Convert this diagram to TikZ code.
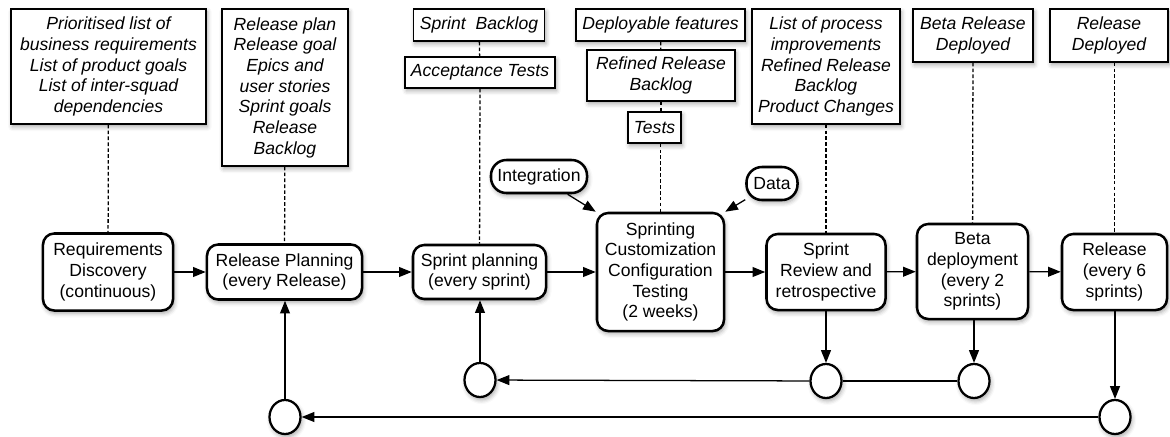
\documentclass[tikz,border=0pt]{standalone}
\usepackage{fontspec}
\setmainfont{Liberation Sans}
\usetikzlibrary{arrows.meta,shapes.geometric,shadows.blur}

\begin{document}
\begin{tikzpicture}[x=0.025cm,y=-0.025cm,
  shade/.style={blur shadow={shadow xshift=1pt,shadow yshift=-2pt,shadow blur radius=3pt,shadow opacity=35}},
  note/.style={draw,line width=0.9pt,fill=white,align=center,inner sep=0pt,shade,
    font=\fontsize{12.5}{14.7}\selectfont\itshape},
  proc/.style={draw,line width=1.8pt,rounded corners=8pt,fill=white,align=center,inner sep=0pt,shade,
    font=\fontsize{12.5}{14.7}\selectfont},
  pill/.style={draw,line width=1.8pt,rounded corners=11pt,fill=white,inner sep=0pt,shade,
    minimum height=0.825cm,font=\fontsize{12.5}{14.7}\selectfont},
  junc/.style={ellipse,draw,line width=1.6pt,fill=white,inner sep=0pt,shade,
    minimum width=0.775cm,minimum height=0.85cm},
  flow/.style={line width=0.9pt,-{Triangle[length=9pt,width=7pt]}},
  link/.style={line width=0.9pt},
  guide/.style={line width=0.9pt,dash pattern=on 2.6pt off 1.6pt}]
\useasboundingbox (0,0) rectangle (1170,436);

% outputs
\node[note,minimum width=4.875cm,minimum height=2.875cm] (reqout) at (108.5,66.5)
  {Prioritised list of\\business requirements\\List of product goals\\List of inter-squad\\dependencies};
\node[note,minimum width=3.15cm,minimum height=3.925cm] (planout) at (285,87.5)
  {Release plan\\Release goal\\Epics and\\user stories\\Sprint goals\\Release\\Backlog};
\node[note,minimum width=3.275cm,minimum height=0.8cm] (sprintbl) at (479,25) {Sprint\ \ Backlog};
\node[note,minimum width=3.75cm,minimum height=0.775cm] (acctests) at (480,72.5) {Acceptance Tests};
\node[note,minimum width=4.225cm,minimum height=0.8cm] (deployable) at (660.5,25) {Deployable features};
\node[note,minimum width=3.7cm,minimum height=1.275cm] (refined) at (661,75.5) {Refined Release\\Backlog};
\node[note,minimum width=1.325cm,minimum height=0.775cm] (tests) at (654.5,127.5) {Tests};
\node[note,minimum width=3.7cm,minimum height=2.875cm] (improv) at (826,66.5)
  {List of process\\improvements\\Refined Release\\Backlog\\Product Changes};
\node[note,minimum width=3cm,minimum height=1.325cm] (betaout) at (973,35.5) {Beta Release\\Deployed};
\node[note,minimum width=2.95cm,minimum height=1.325cm] (relout) at (1109,35.5) {Release\\Deployed};

% steps
\node[proc,minimum width=3.25cm,minimum height=1.925cm] (discovery) at (108,272)
  {Requirements\\Discovery\\(continuous)};
\node[proc,minimum width=3.875cm,minimum height=1.375cm] (relplan) at (284.5,272)
  {Release Planning\\(every Release)};
\node[proc,minimum width=3.325cm,minimum height=1.35cm] (sprplan) at (479.5,272)
  {Sprint planning\\(every sprint)};
\node[proc,minimum width=3.175cm,minimum height=2.95cm] (sprinting) at (660.5,272)
  {Sprinting\\Customization\\Configuration\\Testing\\(2 weeks)};
\node[proc,minimum width=2.975cm,minimum height=1.9cm] (review) at (826,272)
  {Sprint\\Review and\\retrospective};
\node[proc,minimum width=2.775cm,minimum height=2.375cm] (betadep) at (972.5,271.5)
  {Beta\\deployment\\(every 2\\sprints)};
\node[proc,minimum width=2.625cm,minimum height=1.9cm] (release) at (1114.5,272)
  {Release\\(every 6\\sprints)};

\node[pill,minimum width=2.4cm] (integ) at (539,176.5) {Integration};
\node[pill,minimum width=1.275cm] (data) at (772,183.5) {Data};

% junctions
\node[junc] (sprjoin) at (480,380) {};
\node[junc] (revjoin) at (826,381) {};
\node[junc] (betajoin) at (974,381) {};
\node[junc] (reljoin) at (1115,417) {};
\node[junc] (planjoin) at (285,417) {};

% dashed ties
\draw[guide] (reqout) -- (discovery);
\draw[guide] (planout) -- (relplan);
\draw[guide] (sprintbl) -- (acctests);
\draw[guide] (acctests) -- (sprplan);
\draw[guide] (deployable) -- (refined);
\draw[guide] (refined.south) -- (refined.south |- tests.north);
\draw[guide] (tests.south -| sprinting.north) -- (sprinting.north);
\draw[guide] (improv) -- (review);
\draw[guide] (betaout) -- (betadep);
\draw[guide] (release.north |- relout.south) -- (release.north);

% flow
\draw[flow] (discovery) -- (relplan);
\draw[flow] (relplan) -- (sprplan);
\draw[flow] (sprplan) -- (sprinting);
\draw[flow] (sprinting) -- (review);
\draw[flow] (review) -- (betadep);
\draw[flow] (betadep) -- (release);
\draw[flow] (integ) -- (sprinting.north west);
\draw[flow] (data) -- (sprinting.north east);

% feedback
\draw[flow] (review) -- (revjoin);
\draw[flow] (betadep.south -| betajoin) -- (betajoin);
\draw[link] (betajoin) -- (revjoin);
\draw[flow] (revjoin) -- (sprjoin);
\draw[flow] (sprjoin) -- (sprplan.south -| sprjoin);
\draw[flow] (release.south -| reljoin) -- (reljoin);
\draw[flow] (reljoin) -- (planjoin);
\draw[flow] (planjoin) -- (relplan.south -| planjoin);
\end{tikzpicture}
\end{document}
